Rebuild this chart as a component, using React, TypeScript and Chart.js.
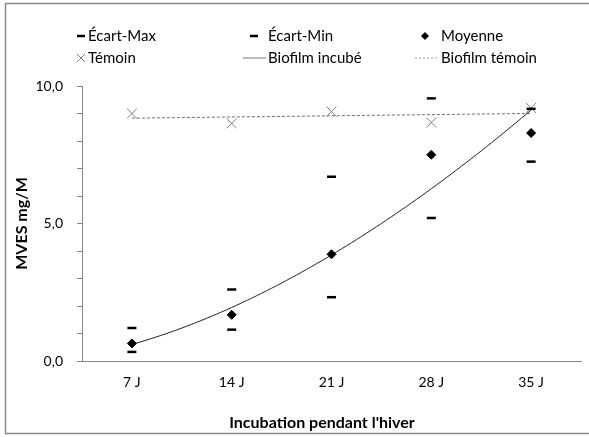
import React, { useEffect, useRef } from "react";
import { Chart, registerables } from "chart.js";

Chart.register(...registerables);

const categories = ["7 J", "14 J", "21 J", "28 J", "35 J"];
const ecartMax = [1.2, 2.6, 6.7, 9.55, 9.17];
const ecartMin = [0.33, 1.14, 2.32, 5.2, 7.25];
const moyenne = [0.64, 1.68, 3.88, 7.5, 8.29];
const temoin = [9.0, 8.64, 9.07, 8.67, 9.2];
const yMin = 0;
const yMax = 10;
const yLabelStep = 5;

const seriesNames = ["Écart-Max", "Écart-Min", "Moyenne", "Témoin", "Biofilm incubé", "Biofilm témoin"];
const xTitle = "Incubation pendant l'hiver";
const yTitle = "MVES mg/M";

const FONT = "Lato, 'Noto Sans', sans-serif";

// Excel-like power trendline fit (y = a * x^b) of the Moyenne series
function powerFit(ys: number[]) {
  const xs = ys.map((_, i) => i + 1);
  const lx = xs.map(Math.log);
  const ly = ys.map(Math.log);
  const n = ys.length;
  const mx = lx.reduce((s, v) => s + v, 0) / n;
  const my = ly.reduce((s, v) => s + v, 0) / n;
  let sxy = 0, sxx = 0;
  for (let i = 0; i < n; i++) { sxy += (lx[i] - mx) * (ly[i] - my); sxx += (lx[i] - mx) ** 2; }
  const b = sxy / sxx;
  const a = Math.exp(my - b * mx);
  return (x: number) => a * Math.pow(x, b);
}
// Excel-like linear trendline fit of the Témoin series
function linearFit(ys: number[]) {
  const xs = ys.map((_, i) => i + 1);
  const n = ys.length;
  const mx = xs.reduce((s, v) => s + v, 0) / n;
  const my = ys.reduce((s, v) => s + v, 0) / n;
  let sxy = 0, sxx = 0;
  for (let i = 0; i < n; i++) { sxy += (xs[i] - mx) * (ys[i] - my); sxx += (xs[i] - mx) ** 2; }
  const b = sxy / sxx;
  const a = my - b * mx;
  return (x: number) => a + b * x;
}

const toPts = (arr: number[]) => arr.map((y, i) => ({ x: i + 1, y }));

export default function App() {
  const ref = useRef<HTMLCanvasElement | null>(null);
  useEffect(() => {
    if (!ref.current) return;
    const pf = powerFit(moyenne);
    const lf = linearFit(temoin);
    const curve: { x: number; y: number }[] = [];
    for (let k = 0; k <= 80; k++) {
      const x = 1 + (k * (categories.length - 1)) / 80;
      curve.push({ x, y: pf(x) });
    }
    const straight = [{ x: 1, y: lf(1) }, { x: categories.length, y: lf(categories.length) }];

    const bgPlugin = {
      id: "bg",
      beforeDraw(chart: any) {
        const c = chart.ctx;
        c.save();
        c.fillStyle = "#fff";
        c.fillRect(0, 0, chart.width, chart.height);
        c.strokeStyle = "#8a8a8a";
        c.lineWidth = 1.5;
        c.strokeRect(5.5, 3.5, chart.width + 20, 430);
        c.restore();
      },
    };

    const legendPlugin = {
      id: "customLegend",
      afterDraw(chart: any) {
        const c = chart.ctx;
        c.save();
        // x axis title
        c.font = `bold 16px ${FONT}`;
        c.fillStyle = "#000";
        c.textAlign = "center";
        c.textBaseline = "middle";
        c.fillText(xTitle, 322, 423);

        c.font = `15px ${FONT}`;
        c.textBaseline = "middle";
        c.textAlign = "left";
        const r1 = 36, r2 = 58;
        const cols = [88, 268, 441];
        // Écart-Max dash
        c.strokeStyle = "#000"; c.lineWidth = 2.5;
        c.beginPath(); c.moveTo(77, r1); c.lineTo(85, r1); c.stroke();
        c.fillText(seriesNames[0], cols[0], r1);
        // Écart-Min dash
        c.beginPath(); c.moveTo(250, r1); c.lineTo(258, r1); c.stroke();
        c.fillText(seriesNames[1], cols[1], r1);
        // Moyenne diamond
        c.fillStyle = "#000";
        c.beginPath(); c.moveTo(425, r1 - 4); c.lineTo(429, r1); c.lineTo(425, r1 + 4); c.lineTo(421, r1); c.closePath(); c.fill();
        c.fillText(seriesNames[2], cols[2], r1);
        // Témoin cross
        c.strokeStyle = "#808080"; c.lineWidth = 1;
        c.beginPath(); c.moveTo(77, r2 - 4); c.lineTo(85, r2 + 4); c.moveTo(85, r2 - 4); c.lineTo(77, r2 + 4); c.stroke();
        c.fillText(seriesNames[3], cols[0], r2);
        // Biofilm incubé line
        c.strokeStyle = "#a6a6a6"; c.lineWidth = 1.5;
        c.beginPath(); c.moveTo(243, r2); c.lineTo(266, r2); c.stroke();
        c.fillText(seriesNames[4], cols[1], r2);
        // Biofilm témoin dotted
        c.strokeStyle = "#9a9a9a"; c.lineWidth = 1; c.setLineDash([2, 2]);
        c.beginPath(); c.moveTo(415, r2); c.lineTo(438, r2); c.stroke();
        c.setLineDash([]);
        c.fillText(seriesNames[5], cols[2], r2);
        c.restore();
      },
    };

    const chart = new Chart(ref.current, {
      type: "scatter",
      data: {
        datasets: [
          { label: seriesNames[0], data: toPts(ecartMax), pointStyle: "line", pointRadius: 4.5, pointBorderWidth: 2.5, borderColor: "#000", backgroundColor: "#000", showLine: false },
          { label: seriesNames[1], data: toPts(ecartMin), pointStyle: "line", pointRadius: 4.5, pointBorderWidth: 2.5, borderColor: "#000", backgroundColor: "#000", showLine: false },
          { label: seriesNames[2], data: toPts(moyenne), pointStyle: "rectRot", pointRadius: 4.5, pointBorderWidth: 1, borderColor: "#000", backgroundColor: "#000", showLine: false },
          { label: seriesNames[3], data: toPts(temoin), pointStyle: "crossRot", pointRadius: 7, pointBorderWidth: 1, borderColor: "#7f7f7f", backgroundColor: "#7f7f7f", showLine: false },
          { label: seriesNames[4], data: curve, showLine: true, pointRadius: 0, borderColor: "#222", borderWidth: 1, tension: 0 },
          { label: seriesNames[5], data: straight, showLine: true, pointRadius: 0, borderColor: "#6e6e6e", borderWidth: 1, borderDash: [3, 2], tension: 0 },
        ],
      },
      options: {
        responsive: false,
        animation: false,
        events: [],
        layout: { padding: { top: 86, right: 1, left: 0, bottom: 0 } },
        plugins: { legend: { display: false }, tooltip: { enabled: false } },
        scales: {
          x: {
            type: "linear",
            min: 0.5,
            max: categories.length + 0.5,
            afterBuildTicks: (scale: any) => { scale.ticks = categories.map((_, i) => ({ value: i + 1 })); },
            afterFit: (scale: any) => { scale.height = 76; },
            ticks: {
              autoSkip: false,
              maxRotation: 0,
              padding: 13,
              color: "#000",
              font: { family: FONT, size: 14 },
              callback: (v: any) => categories[Math.round(Number(v)) - 1] ?? "",
            },
            grid: { display: false, drawTicks: false },
            border: { display: true, color: "#868686", width: 1 },
            title: { display: false },
          },
          y: {
            type: "linear",
            min: yMin,
            max: yMax,
            afterFit: (scale: any) => { scale.width = 82; },
            ticks: {
              stepSize: 1,
              autoSkip: false,
              padding: 14,
              color: "#000",
              font: { family: FONT, size: 14 },
              callback: (v: any) => (Number(v) % yLabelStep === 0 ? Number(v).toFixed(1).replace(".", ",") : ""),
            },
            grid: { drawOnChartArea: false, drawTicks: true, tickLength: 5, color: "#868686" },
            border: { display: true, color: "#868686", width: 1 },
            title: { display: true, text: yTitle, color: "#000", font: { family: FONT, size: 16, weight: "bold" }, padding: { top: 12, bottom: 0 } },
          },
        },
      },
      plugins: [bgPlugin, legendPlugin],
    } as any);
    return () => chart.destroy();
  }, []);
  return (
    <div style={{ position: "fixed", left: 0, top: 0, width: 589, height: 437, background: "#fff" }}>
      <canvas ref={ref} width={589} height={437} style={{ display: "block" }} />
    </div>
  );
}
